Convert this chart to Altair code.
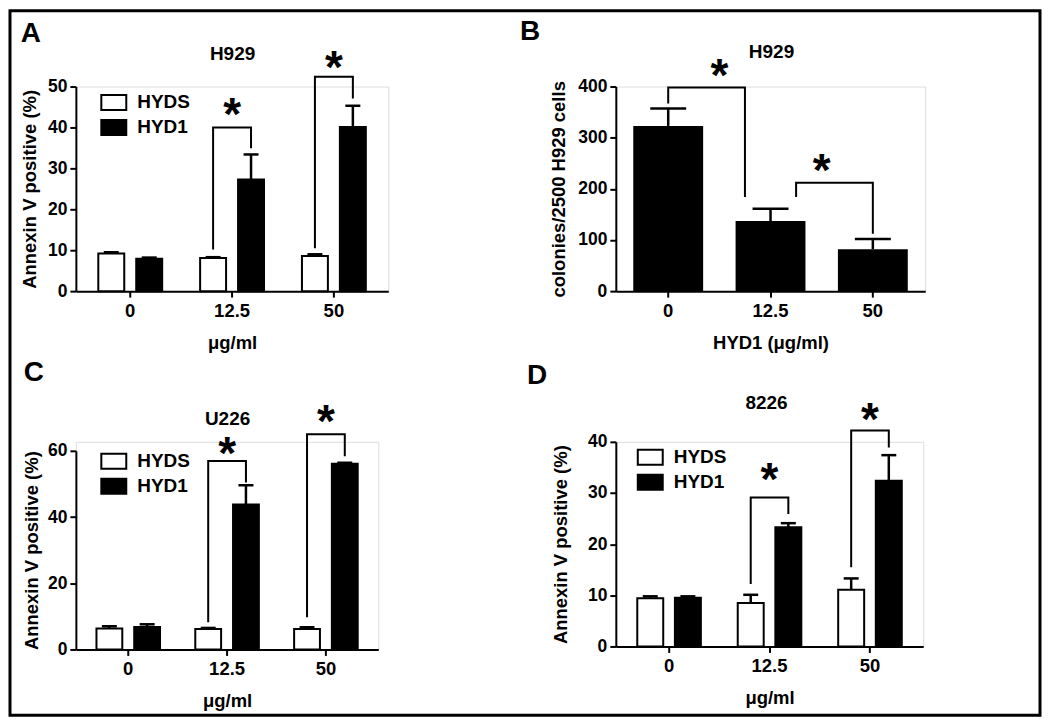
import altair as alt
import pandas as pd

FONT = "Liberation Sans"

doses = ["0", "12.5", "50"]
series = ["HYDS", "HYD1"]

# ---- Panel A: H929, Annexin V ----
a_hyds = [9.2, 8.1, 8.6]
a_hyds_err = [0.3, 0.2, 0.4]
a_hyd1 = [7.9, 27.3, 40.1]
a_hyd1_err = [0.3, 6.1, 5.2]
a_br_dose = ["12.5", "50"]
a_br_left = [10.2, 10.5]
a_br_top = [40.0, 52.4]
a_br_right = [34.9, 47.1]
a_star_y = [44.6, 56.1]

# ---- Panel B: H929 colonies ----
b_vals = [323, 137, 82]
b_err = [34, 24, 20]
b_br_from = ["0", "12.5"]
b_br_to = ["12.5", "50"]
b_br_left = [367, 184]
b_br_top = [398, 212]
b_br_right = [184, 112]
b_star_y = [433, 247]

# ---- Panel C: U226 ----
c_hyds = [6.3, 6.2, 6.2]
c_hyds_err = [0.7, 0.3, 0.5]
c_hyd1 = [6.8, 43.8, 56.1]
c_hyd1_err = [0.8, 5.8, 0.3]
c_br_dose = ["12.5", "50"]
c_br_left = [8.2, 9.7]
c_br_top = [56.9, 65.0]
c_br_right = [50.4, 58.4]
c_star_y = [60.8, 70.5]

# ---- Panel D: 8226 ----
d_hyds = [9.4, 8.5, 11.1]
d_hyds_err = [0.4, 1.6, 2.2]
d_hyd1 = [9.5, 23.3, 32.4]
d_hyd1_err = [0.3, 0.8, 5.0]
d_br_dose = ["12.5", "50"]
d_br_left = [12.2, 15.5]
d_br_top = [29.1, 42.2]
d_br_right = [25.9, 38.9]
d_star_y = [33.7, 45.4]

STAR_FS = 46
STAR_DY = 21
TITLE_FS = 19


def axis_common(**kw):
    base = dict(
        domainColor="black", domainWidth=2, tickColor="black", tickWidth=2,
        tickSize=6, labelFont=FONT, labelFontWeight="bold", labelColor="black",
        titleFont=FONT, titleFontWeight="bold", titleColor="black", grid=False,
    )
    base.update(kw)
    return alt.Axis(**base)


def text_layer(txt, x, y, size):
    return alt.Chart(pd.DataFrame({"t": [txt]})).mark_text(
        font=FONT, fontWeight="bold", fontSize=size, color="black",
        align="center", baseline="middle",
    ).encode(text="t:N", x=alt.value(x), y=alt.value(y))


def grouped_panel(hyds, hyds_err, hyd1, hyd1_err, br_dose, br_left, br_top,
                  br_right, star_y, width, height, ydomain, yticks, yrange,
                  x_po, off_pi, off_po, title, title_xy, letter, letter_xy,
                  ytitle_pad, xtitle_pad, legend_xy, extra=None):
    rows = []
    for d, v, e in zip(doses, hyds, hyds_err):
        rows.append({"dose": d, "series": "HYDS", "value": v, "upper": v + e})
    for d, v, e in zip(doses, hyd1, hyd1_err):
        rows.append({"dose": d, "series": "HYD1", "value": v, "upper": v + e})
    bars_df = pd.DataFrame(rows)

    br_rows = []
    for i, (d, lo, top, ro) in enumerate(zip(br_dose, br_left, br_top, br_right)):
        br_rows += [
            {"bid": i, "ord": 0, "dose": d, "series": "HYDS", "y": lo},
            {"bid": i, "ord": 1, "dose": d, "series": "HYDS", "y": top},
            {"bid": i, "ord": 2, "dose": d, "series": "HYD1", "y": top},
            {"bid": i, "ord": 3, "dose": d, "series": "HYD1", "y": ro},
        ]
    br_df = pd.DataFrame(br_rows)
    star_df = pd.DataFrame({"dose": br_dose, "y": star_y})

    yscale = dict(domain=ydomain, nice=False, zero=True)
    if yrange is not None:
        yscale["range"] = yrange
    yaxis = axis_common(values=yticks, title="Annexin V positive (%)",
                        labelFontSize=17.5, titleFontSize=18.5,
                        labelPadding=3, titlePadding=ytitle_pad)
    xaxis = axis_common(title="μg/ml", labelAngle=0, labelFontSize=18.5,
                        titleFontSize=18.5, labelPadding=4,
                        titlePadding=xtitle_pad)

    def X():
        return alt.X("dose:N", sort=doses, axis=xaxis,
                     scale=alt.Scale(type="band", paddingInner=0, paddingOuter=x_po))

    def XO(field="series"):
        return alt.XOffset(f"{field}:N", sort=series,
                           scale=alt.Scale(type="band", paddingInner=off_pi,
                                           paddingOuter=off_po))

    def Y(field):
        return alt.Y(f"{field}:Q", scale=alt.Scale(**yscale), axis=yaxis)

    bars = alt.Chart(bars_df).mark_bar(stroke="black", strokeWidth=2).encode(
        x=X(), xOffset=XO(), y=Y("value"),
        fill=alt.Fill("series:N", sort=series,
                      scale=alt.Scale(domain=series, range=["white", "black"]),
                      legend=alt.Legend(
                          orient="none", legendX=legend_xy[0], legendY=legend_xy[1],
                          title=None, padding=0, rowPadding=0,
                          symbolType="M-1,-0.6H1V0.6H-1Z", symbolSize=625,
                          symbolStrokeColor="black", symbolStrokeWidth=2,
                          labelFont=FONT, labelFontWeight="bold", labelFontSize=19,
                          labelColor="black", labelOffset=10)),
    )
    err = alt.Chart(bars_df).mark_rule(color="black", strokeWidth=2.5).encode(
        x=X(), xOffset=XO(), y=Y("value"), y2="upper:Q")
    caps = alt.Chart(bars_df).mark_tick(color="black", orient="horizontal",
                                        size=15, thickness=2.5, opacity=1).encode(
        x=X(), xOffset=XO(), y=Y("upper"))
    brackets = alt.Chart(br_df).mark_line(color="black", strokeWidth=2).encode(
        x=X(), xOffset=XO(), y=Y("y"), detail="bid:N", order="ord:Q")
    stars = alt.Chart(star_df).mark_text(
        text="*", font=FONT, fontWeight="bold", fontSize=STAR_FS,
        baseline="alphabetic", dy=STAR_DY, color="black").encode(
        x=X(), y=Y("y"))
    layers = [bars, err, caps, brackets, stars,
              text_layer(title, title_xy[0], title_xy[1], TITLE_FS),
              text_layer(letter, letter_xy[0], letter_xy[1], 28)]
    if extra is not None:
        layers.append(extra)
    return alt.layer(*layers).properties(width=width, height=height)


# frame around the whole figure (drawn from panel A)
frame = alt.Chart(pd.DataFrame({"k": [0]})).mark_rect(
    color="black", fillOpacity=0, stroke="black", strokeWidth=3).encode(
    x=alt.value(-66), x2=alt.value(966), y=alt.value(-76), y2=alt.value(630))

panel_a = grouped_panel(
    a_hyds, a_hyds_err, a_hyd1, a_hyd1_err, a_br_dose, a_br_left, a_br_top,
    a_br_right, a_star_y, 313, 205, [0, 50], [0, 10, 20, 30, 40, 50], None,
    0.034, 0.316, 0.5, "H929", (157, -33), "A", (-45, -53), 8, 14, (24.5, 2.5),
    extra=frame)

panel_c = grouped_panel(
    c_hyds, c_hyds_err, c_hyd1, c_hyd1_err, c_br_dose, c_br_left, c_br_top,
    c_br_right, c_star_y, 303, 208, [0, 60], [0, 20, 40, 60], [208, 9],
    0.03, 0.316, 0.467, "U226", (152, -23), "C", (-42, -69), 6, 14, (24.5, 6))

panel_d = grouped_panel(
    d_hyds, d_hyds_err, d_hyd1, d_hyd1_err, d_br_dose, d_br_left, d_br_top,
    d_br_right, d_star_y, 308, 205, [0, 40], [0, 10, 20, 30, 40], None,
    0.03, 0.31, 0.49, "8226", (151, -39), "D", (-79, -66), 17, 14, (21, 2))

# ---- Panel B ----
b_df = pd.DataFrame({"dose": doses, "value": b_vals,
                     "upper": [v + e for v, e in zip(b_vals, b_err)]})
b_br_rows = []
for i, (f, t, lo, top, ro) in enumerate(zip(b_br_from, b_br_to, b_br_left,
                                           b_br_top, b_br_right)):
    side_from = "C" if i == 0 else "R"
    side_to = "L" if i == 0 else "C"
    b_br_rows += [
        {"bid": i, "ord": 0, "dose": f, "side": side_from, "y": lo},
        {"bid": i, "ord": 1, "dose": f, "side": side_from, "y": top},
        {"bid": i, "ord": 2, "dose": t, "side": side_to, "y": top},
        {"bid": i, "ord": 3, "dose": t, "side": side_to, "y": ro},
    ]
b_br_df = pd.DataFrame(b_br_rows)
b_star_df = pd.DataFrame({"dose": b_br_from, "y": b_star_y})

b_yaxis = axis_common(values=[0, 100, 200, 300, 400],
                      title="colonies/2500 H929 cells", labelFontSize=17.5,
                      titleFontSize=18.5, labelPadding=3, titlePadding=9)
b_xaxis = axis_common(title="HYD1 (μg/ml)", labelAngle=0, labelFontSize=18.5,
                      titleFontSize=18.5, labelPadding=4, titlePadding=14)


def BX(band=0.5):
    return alt.X("dose:N", sort=doses, axis=b_xaxis, bandPosition=band,
                 scale=alt.Scale(type="band", paddingInner=0, paddingOuter=0.012))


def BY(field):
    return alt.Y(f"{field}:Q", axis=b_yaxis,
                 scale=alt.Scale(domain=[0, 400], nice=False, zero=True))


b_bars = alt.Chart(b_df).mark_bar(color="black", size=70).encode(
    x=BX(), y=BY("value"))
b_err_l = alt.Chart(b_df).mark_rule(color="black", strokeWidth=2.5).encode(
    x=BX(), y=BY("value"), y2="upper:Q")
b_caps = alt.Chart(b_df).mark_tick(color="black", orient="horizontal",
                                   size=36, thickness=2.5, opacity=1).encode(
    x=BX(), y=BY("upper"))
b_brackets = alt.Chart(b_br_df).mark_line(color="black", strokeWidth=2).encode(
    x=BX(),
    xOffset=alt.XOffset("side:N", sort=["L", "C", "R"],
                        scale=alt.Scale(type="point", padding=10.4)),
    y=BY("y"), detail="bid:N", order="ord:Q")
b_stars = alt.Chart(b_star_df).mark_text(
    text="*", font=FONT, fontWeight="bold", fontSize=STAR_FS,
    baseline="alphabetic", dy=STAR_DY, color="black").encode(
    x=BX(1.0), y=BY("y"))

panel_b = alt.layer(
    b_bars, b_err_l, b_caps, b_brackets, b_stars,
    text_layer("H929", 156, -35, TITLE_FS), text_layer("B", -86, -55, 28),
).properties(width=310, height=205)

chart = alt.concat(
    panel_a, panel_b, panel_c, panel_d, columns=2,
    spacing={"row": 151, "column": 228}, bounds="flush",
).resolve_scale(
    fill="independent", x="independent", y="independent", xOffset="independent"
).resolve_legend(fill="independent").properties(
    padding=0
).configure_view(strokeWidth=0).configure(background="white")

chart.save("out.html", embed_options={"renderer": "svg", "actions": False})
